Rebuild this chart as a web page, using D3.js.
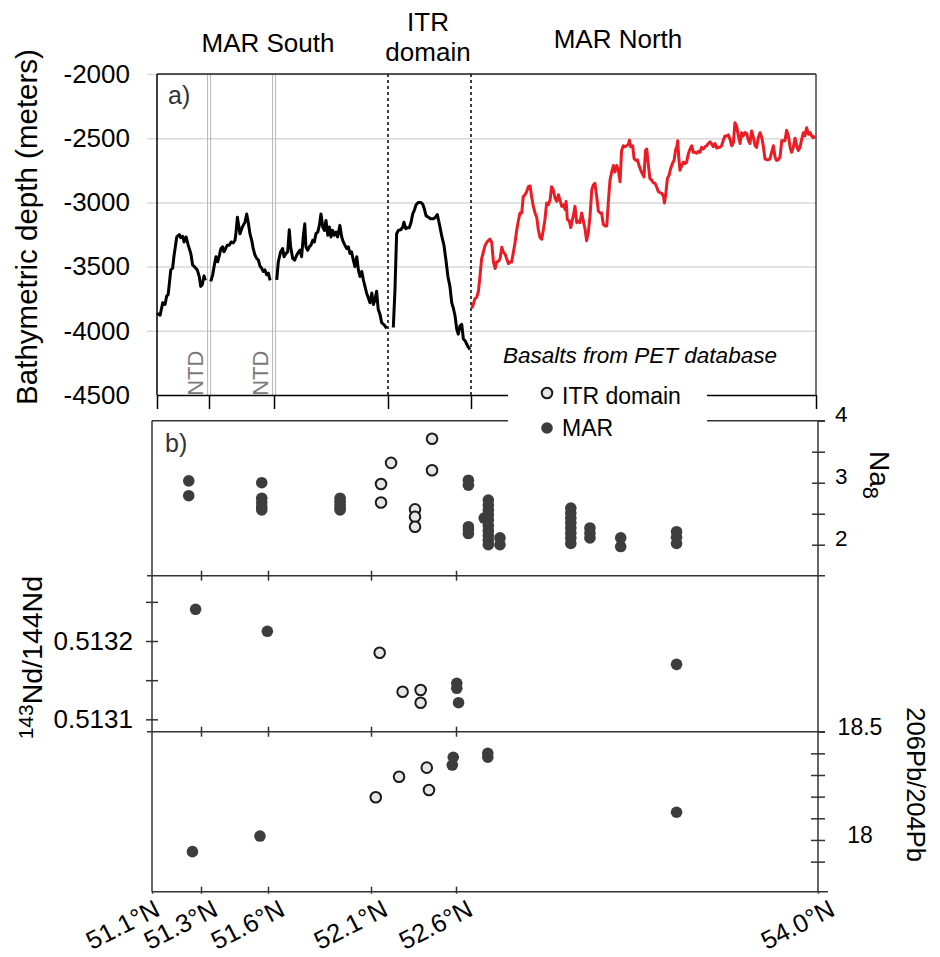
<!DOCTYPE html>
<html>
<head>
<meta charset="utf-8">
<script src="https://cdn.jsdelivr.net/npm/d3@7"></script>
<style>
  body { margin: 0; background: #fff; }
  svg text { font-family: "Liberation Sans", Arial, sans-serif; }
</style>
</head>
<body>
<svg id="chart" width="940" height="957"></svg>
<script>
// latitude ticks (axis is not linear in latitude, so the scales are piecewise)
const latTicks = [51.1, 51.3, 51.6, 52.1, 52.6, 54.0];
const latLabels = ["51.1°N", "51.3°N", "51.6°N", "52.1°N", "52.6°N", "54.0°N"];
const depthTicks = [-4500, -4000, -3500, -3000, -2500, -2000];
const naTicks = [2, 2.5, 3, 3.5, 4];
const naTickLabels = ["2", "", "3", "", "4"];
const ndTicks = [0.5131, 0.51315, 0.5132, 0.51325];
const ndTickLabels = ["0.5131", "", "0.5132", ""];
const pbTicks = [17.9, 18.0, 18.1, 18.2, 18.3, 18.4, 18.5];
const pbTickLabels = ["", "18", "", "", "", "", "18.5"];

// bathymetry along axis [lat, depth m]
const marSouth1 = [[51.100,-3864],[51.112,-3879],[51.122,-3782],[51.131,-3795],[51.137,-3731],[51.143,-3718],[51.153,-3526],[51.160,-3513],[51.165,-3423],[51.176,-3269],[51.186,-3251],[51.191,-3274],[51.199,-3264],[51.204,-3308],[51.212,-3269],[51.220,-3333],[51.230,-3397],[51.237,-3487],[51.246,-3505],[51.255,-3526],[51.263,-3582],[51.268,-3654],[51.274,-3641],[51.281,-3572],[51.286,-3608]];
const marSouth2 = [[51.308,-3615],[51.317,-3564],[51.324,-3495],[51.332,-3423],[51.340,-3462],[51.348,-3410],[51.355,-3359],[51.363,-3346],[51.369,-3385],[51.377,-3359],[51.384,-3333],[51.394,-3333],[51.402,-3308],[51.412,-3315],[51.420,-3295],[51.425,-3231],[51.431,-3115],[51.438,-3192],[51.443,-3244],[51.451,-3205],[51.458,-3179],[51.466,-3154],[51.474,-3090],[51.481,-3154],[51.489,-3244],[51.497,-3295],[51.504,-3359],[51.512,-3410],[51.520,-3436],[51.528,-3449],[51.535,-3495],[51.543,-3513],[51.551,-3538],[51.558,-3526],[51.566,-3564],[51.574,-3551],[51.582,-3608]];
const marSouth3 = [[51.612,-3603],[51.619,-3462],[51.629,-3385],[51.638,-3359],[51.644,-3423],[51.653,-3397],[51.660,-3385],[51.667,-3213],[51.673,-3346],[51.682,-3436],[51.691,-3449],[51.700,-3410],[51.708,-3385],[51.714,-3372],[51.721,-3423],[51.729,-3256],[51.735,-3167],[51.740,-3346],[51.748,-3372],[51.755,-3346],[51.762,-3333],[51.770,-3295],[51.777,-3308],[51.784,-3244],[51.792,-3231],[51.799,-3179],[51.806,-3090],[51.814,-3192],[51.821,-3218],[51.828,-3141],[51.836,-3256],[51.843,-3192],[51.850,-3269],[51.857,-3218],[51.864,-3256],[51.872,-3231],[51.879,-3269],[51.889,-3179],[51.897,-3269],[51.904,-3308],[51.911,-3333],[51.919,-3359],[51.926,-3346],[51.933,-3397],[51.940,-3385],[51.948,-3449],[51.955,-3500],[51.963,-3423],[51.970,-3526],[51.977,-3577],[51.985,-3538],[51.992,-3603],[51.999,-3654],[52.006,-3705],[52.014,-3744],[52.021,-3782],[52.029,-3705],[52.036,-3795],[52.043,-3756],[52.050,-3692],[52.057,-3833],[52.065,-3872],[52.072,-3936],[52.080,-3949],[52.087,-3962],[52.094,-3982]];
const itrProfile = [[52.132,-3974],[52.142,-3679],[52.152,-3244],[52.162,-3218],[52.177,-3213],[52.189,-3192],[52.196,-3154],[52.207,-3205],[52.216,-3197],[52.228,-3197],[52.239,-3154],[52.249,-3090],[52.258,-3064],[52.269,-3018],[52.283,-3000],[52.297,-3000],[52.309,-3013],[52.319,-3051],[52.329,-3103],[52.343,-3115],[52.357,-3128],[52.373,-3128],[52.387,-3115],[52.397,-3095],[52.405,-3141],[52.413,-3192],[52.425,-3269],[52.437,-3333],[52.449,-3449],[52.461,-3577],[52.473,-3654],[52.484,-3782],[52.493,-3820],[52.504,-3885],[52.514,-3987],[52.523,-4026],[52.534,-3962],[52.544,-3949],[52.554,-4064],[52.564,-4077],[52.574,-4103],[52.584,-4128],[52.594,-4146]];
const marNorth = [[52.603,-3827],[52.609,-3796],[52.616,-3750],[52.623,-3740],[52.630,-3694],[52.637,-3566],[52.643,-3439],[52.650,-3388],[52.657,-3337],[52.664,-3311],[52.670,-3298],[52.677,-3286],[52.684,-3311],[52.691,-3464],[52.698,-3515],[52.704,-3464],[52.711,-3459],[52.718,-3439],[52.725,-3349],[52.731,-3388],[52.738,-3401],[52.745,-3439],[52.752,-3477],[52.758,-3464],[52.765,-3464],[52.772,-3388],[52.779,-3311],[52.785,-3222],[52.792,-3145],[52.799,-3082],[52.806,-3082],[52.812,-2954],[52.819,-2941],[52.826,-2916],[52.833,-2878],[52.840,-2872],[52.846,-2954],[52.853,-3031],[52.860,-3082],[52.867,-3120],[52.873,-3209],[52.880,-3273],[52.887,-3286],[52.894,-3209],[52.900,-3133],[52.907,-3005],[52.914,-3018],[52.921,-2980],[52.927,-2878],[52.934,-2903],[52.941,-2967],[52.948,-2992],[52.955,-2941],[52.961,-2980],[52.968,-3031],[52.975,-3018],[52.982,-3056],[52.986,-2992],[52.991,-3133],[52.999,-3145],[53.005,-3196],[53.010,-3145],[53.015,-3107],[53.022,-3031],[53.029,-3158],[53.036,-3145],[53.042,-3158],[53.049,-3082],[53.056,-3145],[53.063,-3209],[53.069,-3298],[53.076,-3235],[53.083,-3107],[53.090,-2903],[53.096,-2865],[53.103,-2852],[53.110,-2954],[53.117,-3069],[53.124,-3082],[53.130,-3082],[53.137,-3171],[53.144,-3184],[53.151,-3184],[53.157,-3005],[53.164,-2827],[53.171,-2763],[53.178,-2712],[53.184,-2763],[53.191,-2712],[53.198,-2750],[53.205,-2839],[53.211,-2597],[53.218,-2559],[53.225,-2566],[53.232,-2559],[53.239,-2546],[53.243,-2515],[53.248,-2566],[53.256,-2559],[53.262,-2661],[53.270,-2673],[53.275,-2668],[53.282,-2712],[53.289,-2750],[53.295,-2776],[53.302,-2801],[53.308,-2597],[53.313,-2584],[53.320,-2712],[53.326,-2814],[53.333,-2827],[53.340,-2847],[53.347,-2852],[53.353,-2878],[53.360,-2916],[53.367,-2923],[53.374,-2929],[53.381,-2954],[53.385,-3005],[53.390,-2941],[53.397,-2814],[53.404,-2788],[53.410,-2737],[53.417,-2699],[53.424,-2673],[53.431,-2584],[53.435,-2571],[53.439,-2520],[53.443,-2648],[53.448,-2750],[53.455,-2712],[53.462,-2686],[53.468,-2699],[53.475,-2686],[53.482,-2622],[53.489,-2584],[53.496,-2559],[53.502,-2610],[53.509,-2610],[53.516,-2617],[53.523,-2602],[53.529,-2610],[53.536,-2571],[53.543,-2584],[53.550,-2566],[53.556,-2559],[53.563,-2541],[53.570,-2528],[53.577,-2546],[53.583,-2566],[53.590,-2541],[53.597,-2577],[53.604,-2571],[53.611,-2571],[53.617,-2559],[53.624,-2515],[53.631,-2482],[53.638,-2482],[53.644,-2474],[53.651,-2508],[53.658,-2559],[53.665,-2533],[53.671,-2380],[53.678,-2406],[53.685,-2482],[53.692,-2541],[53.698,-2457],[53.705,-2482],[53.712,-2457],[53.719,-2464],[53.726,-2520],[53.732,-2541],[53.739,-2444],[53.746,-2495],[53.753,-2559],[53.759,-2571],[53.766,-2495],[53.773,-2457],[53.780,-2495],[53.786,-2559],[53.793,-2661],[53.800,-2668],[53.807,-2668],[53.813,-2661],[53.820,-2610],[53.827,-2559],[53.834,-2648],[53.840,-2673],[53.847,-2668],[53.854,-2648],[53.861,-2520],[53.867,-2520],[53.874,-2520],[53.881,-2439],[53.888,-2482],[53.895,-2571],[53.901,-2610],[53.908,-2571],[53.915,-2500],[53.922,-2559],[53.928,-2597],[53.935,-2571],[53.942,-2508],[53.949,-2457],[53.955,-2482],[53.962,-2418],[53.969,-2469],[53.976,-2457],[53.982,-2482],[53.989,-2495],[53.996,-2482]];

// basalts from PET database [lat, value]
const naItr = [[52.159,2.98],[52.159,2.68],[52.218,3.32],[52.459,3.71],[52.459,3.20],[52.359,2.57],[52.359,2.45],[52.359,2.29]];
const naMar = [[51.250,3.03],[51.250,2.79],[51.572,3.00],[51.572,2.75],[51.572,2.68],[51.572,2.61],[51.572,2.56],[51.950,2.75],[51.950,2.70],[51.950,2.65],[51.950,2.60],[51.950,2.56],[52.648,3.04],[52.648,2.96],[52.648,2.29],[52.648,2.24],[52.648,2.18],[52.709,2.43],[52.725,2.72],[52.725,2.64],[52.725,2.56],[52.725,2.48],[52.725,2.40],[52.725,2.31],[52.725,2.23],[52.725,2.15],[52.725,2.07],[52.725,2.00],[52.770,2.11],[52.770,2.00],[53.044,2.59],[53.044,2.51],[53.044,2.43],[53.044,2.35],[53.044,2.27],[53.044,2.19],[53.044,2.11],[53.044,2.02],[53.118,2.27],[53.118,2.19],[53.118,2.11],[53.237,2.11],[53.237,1.97],[53.453,2.21],[53.453,2.12],[53.453,2.02]];
const ndItr = [[52.151,0.5131851],[52.286,0.5131352],[52.392,0.5131374],[52.392,0.5131212]];
const ndMar = [[51.278,0.5132405],[51.597,0.5132124],[52.603,0.5131460],[52.603,0.5131396],[52.610,0.5131212],[53.453,0.5131702]];
const pbItr = [[52.128,18.197],[52.265,18.292],[52.428,18.334],[52.441,18.231]];
const pbMar = [[51.265,17.946],[51.564,18.018],[52.584,18.382],[52.578,18.346],[52.723,18.400],[52.723,18.382],[53.453,18.128]];

const FONT = '"Liberation Sans", Arial, sans-serif';
const svg = d3.select("#chart");

const topX = d3.scaleLinear().domain(latTicks).range([157, 209, 274, 388, 471, 816]);
const topY = d3.scaleLinear().domain([-4500, -2000]).range([395, 74]);
const lowX = d3.scaleLinear().domain(latTicks).range([152, 201, 268, 371, 456, 818]);
const naY = d3.scaleLinear().domain([1.5, 4]).range([575.7, 420.7]);
const ndY = d3.scaleLinear().domain([0.5130842, 0.5132834]).range([731.7, 575.7]);
const pbY = d3.scaleLinear().domain([17.761, 18.5]).range([891.7, 731.7]);

const x0 = topX(51.1), x1 = topX(54.0), yTop = topY(-2000), yBot = topY(-4500);

function styleAxis(g, col, w) {
  g.attr("font-family", FONT).attr("fill", null);
  g.selectAll("line").attr("stroke", col).attr("stroke-width", w);
  g.select(".domain").attr("stroke", col).attr("stroke-width", w);
  g.selectAll("text").attr("fill", "#000");
}

// ---- panel a) bathymetry ----
// grid
svg.append("g")
  .attr("transform", `translate(${x1},0)`)
  .call(d3.axisLeft(topY).tickValues(depthTicks.slice(1)).tickSize(x1 - x0 + 10).tickFormat(""))
  .call(g => g.select(".domain").remove())
  .call(g => g.selectAll("line").attr("stroke", "#d9d9d9").attr("stroke-width", 1.5));

// y labels
svg.append("g")
  .attr("transform", `translate(${x0},0)`)
  .call(d3.axisLeft(topY).tickValues(depthTicks).tickSize(0).tickPadding(27).tickFormat(d => String(d)))
  .call(g => g.select(".domain").remove())
  .call(g => g.attr("font-family", FONT).attr("font-size", 26))
  .selectAll("text").attr("fill", "#000");

// NTD double lines
[51.3, 51.6].forEach(lat => {
  [-1.4, 1.6].forEach(off => {
    svg.append("line")
      .attr("x1", topX(lat) + off).attr("x2", topX(lat) + off)
      .attr("y1", yTop).attr("y2", yBot)
      .attr("stroke", "#b5b5b5").attr("stroke-width", 1);
  });
  svg.append("text")
    .attr("transform", `translate(${topX(lat) - 6},${topY(-4330)}) rotate(-90)`)
    .attr("text-anchor", "middle")
    .attr("font-size", 22).attr("fill", "#7a7a7a")
    .text("NTD");
});

// ITR domain boundaries
[52.1, 52.6].forEach(lat => {
  svg.append("line")
    .attr("x1", topX(lat)).attr("x2", topX(lat))
    .attr("y1", yTop).attr("y2", yBot)
    .attr("stroke", "#000").attr("stroke-width", 1.5)
    .attr("stroke-dasharray", "3,3");
});

const line = d3.line().x(d => topX(d[0])).y(d => topY(d[1]));
[marSouth1, marSouth2, marSouth3, itrProfile].forEach(seg => {
  svg.append("path").datum(seg).attr("d", line)
    .attr("fill", "none").attr("stroke", "#000").attr("stroke-width", 3)
    .attr("stroke-linejoin", "round");
});
svg.append("path").datum(marNorth).attr("d", line)
  .attr("fill", "none").attr("stroke", "#ec1c24").attr("stroke-width", 3)
  .attr("stroke-linejoin", "round");

// frame
svg.append("g")
  .attr("transform", `translate(0,${yBot})`)
  .call(d3.axisBottom(topX).tickValues(latTicks).tickSize(14).tickSizeOuter(0).tickFormat(""))
  .call(g => styleAxis(g, "#000", 1.5));
svg.append("line").attr("x1", x0).attr("x2", x1).attr("y1", yTop).attr("y2", yTop)
  .attr("stroke", "#222").attr("stroke-width", 1.5);
svg.append("line").attr("x1", x0).attr("x2", x0).attr("y1", yTop).attr("y2", yBot)
  .attr("stroke", "#000").attr("stroke-width", 1.5);
svg.append("line").attr("x1", x1).attr("x2", x1).attr("y1", yTop).attr("y2", yBot)
  .attr("stroke", "#444").attr("stroke-width", 1.5);

svg.append("text").attr("x", x0 + 11).attr("y", 104).attr("font-size", 25).attr("fill", "#333").text("a)");

svg.append("text")
  .attr("transform", `translate(37,227) rotate(-90)`)
  .attr("text-anchor", "middle").attr("font-size", 29.5).attr("fill", "#000")
  .text("Bathymetric depth (meters)");

// domain titles
svg.append("text").attr("x", 268).attr("y", 52).attr("text-anchor", "middle").attr("font-size", 26).text("MAR South");
svg.append("text").attr("x", 428).attr("y", 31).attr("text-anchor", "middle").attr("font-size", 26).text("ITR");
svg.append("text").attr("x", 428).attr("y", 61).attr("text-anchor", "middle").attr("font-size", 26).text("domain");
svg.append("text").attr("x", 618).attr("y", 48).attr("text-anchor", "middle").attr("font-size", 26).text("MAR North");

svg.append("text").attr("x", 640).attr("y", 363).attr("text-anchor", "middle")
  .attr("font-size", 22.5).attr("font-style", "italic").text("Basalts from PET database");

// ---- panel b) geochemistry ----
const lx0 = lowX(51.1), lx1 = lowX(54.0);
const frameCol = "#333";

function hline(y, xa, xb) {
  svg.append("line").attr("x1", xa).attr("x2", xb).attr("y1", y).attr("y2", y)
    .attr("stroke", frameCol).attr("stroke-width", 1.5);
}
hline(naY(4), lx0, lx1 + 7);
hline(naY(1.5), lx0 - 5, lx1 + 7);
hline(ndY.range()[0], lx0 - 5, lx1 + 7);
hline(pbY(17.761), lx0, lx1 + 10);
svg.append("line").attr("x1", lx0).attr("x2", lx0).attr("y1", naY(4)).attr("y2", pbY(17.761))
  .attr("stroke", frameCol).attr("stroke-width", 1.5);
svg.append("line").attr("x1", lx1).attr("x2", lx1).attr("y1", naY(4)).attr("y2", pbY(17.761))
  .attr("stroke", frameCol).attr("stroke-width", 1.5);

// latitude ticks on separators
[naY(1.5), ndY.range()[0]].forEach(y => {
  svg.append("g").attr("transform", `translate(0,${y})`)
    .call(d3.axisBottom(lowX).tickValues(latTicks.slice(1, 5)).tickSize(5).tickFormat(""))
    .call(g => g.select(".domain").remove())
    .call(g => styleAxis(g, frameCol, 1.5));
  svg.append("g").attr("transform", `translate(0,${y})`)
    .call(d3.axisTop(lowX).tickValues(latTicks.slice(1, 5)).tickSize(5).tickFormat(""))
    .call(g => g.select(".domain").remove())
    .call(g => styleAxis(g, frameCol, 1.5));
});

// bottom latitude axis
const yB = pbY(17.761);
svg.append("g").attr("transform", `translate(0,${yB})`)
  .call(d3.axisTop(lowX).tickValues(latTicks.slice(1, 5)).tickSize(5).tickFormat(""))
  .call(g => g.select(".domain").remove())
  .call(g => styleAxis(g, frameCol, 1.5));
svg.append("g").attr("transform", `translate(0,${yB})`)
  .call(d3.axisBottom(lowX).tickValues(latTicks).tickSize(2).tickFormat((d, i) => latLabels[i]))
  .call(g => g.select(".domain").remove())
  .call(g => styleAxis(g, frameCol, 1.5))
  .call(g => g.attr("font-size", 25.5))
  .selectAll("text")
  .attr("x", 0).attr("y", 0).attr("dy", 0)
  .attr("text-anchor", "end")
  .attr("transform", (d, i) => `translate(${i === 0 ? 9 : 18},23) rotate(-27)`);

// Na8 axis (right)
svg.append("g").attr("transform", `translate(${lx1},0)`)
  .call(d3.axisRight(naY).tickValues(naTicks).tickSize(7).tickPadding(10)
    .tickFormat((d, i) => naTickLabels[i]))
  .call(g => g.select(".domain").remove())
  .call(g => styleAxis(g, frameCol, 1.5))
  .call(g => g.attr("font-size", 22.5))
  .selectAll("text").attr("y", -6);
svg.append("g").attr("transform", `translate(${lx1},0)`)
  .call(d3.axisLeft(naY).tickValues(naTicks.slice(0, 4)).tickSize(6).tickFormat(""))
  .call(g => g.select(".domain").remove())
  .call(g => styleAxis(g, frameCol, 1.5));

// Nd axis (left)
svg.append("g").attr("transform", `translate(${lx0},0)`)
  .call(d3.axisLeft(ndY).tickValues(ndTicks).tickSize(6).tickPadding(13)
    .tickFormat((d, i) => ndTickLabels[i]))
  .call(g => g.select(".domain").remove())
  .call(g => styleAxis(g, frameCol, 1.5))
  .call(g => g.attr("font-size", 26));
svg.append("g").attr("transform", `translate(${lx0},0)`)
  .call(d3.axisRight(ndY).tickValues(ndTicks).tickSize(6).tickFormat(""))
  .call(g => g.select(".domain").remove())
  .call(g => styleAxis(g, frameCol, 1.5));

// Pb axis (right)
svg.append("g").attr("transform", `translate(${lx1},0)`)
  .call(d3.axisRight(pbY).tickValues(pbTicks).tickSize(7).tickPadding(35)
    .tickFormat((d, i) => pbTickLabels[i]))
  .call(g => g.select(".domain").remove())
  .call(g => styleAxis(g, frameCol, 1.5))
  .call(g => g.attr("font-size", 23))
  .selectAll("text").attr("text-anchor", "middle").attr("y", -5);
svg.append("g").attr("transform", `translate(${lx1},0)`)
  .call(d3.axisLeft(pbY).tickValues(pbTicks.slice(0, 6)).tickSize(7).tickFormat(""))
  .call(g => g.select(".domain").remove())
  .call(g => styleAxis(g, frameCol, 1.5));

// axis titles
const ndTitle = svg.append("text")
  .attr("transform", `translate(42,${ndY(0.51318) + 1}) rotate(-90)`)
  .attr("text-anchor", "middle").attr("fill", "#000");
ndTitle.append("tspan").attr("font-size", 21).attr("dy", -9).text("143");
ndTitle.append("tspan").attr("font-size", 28.5).attr("dy", 9).text("Nd/144Nd");

const naTitle = svg.append("text")
  .attr("transform", `translate(870,451) rotate(90)`)
  .attr("fill", "#000");
naTitle.append("tspan").attr("font-size", 28).text("Na");
naTitle.append("tspan").attr("font-size", 22).attr("dy", 7).text("8");

svg.append("text")
  .attr("transform", `translate(907,${pbY(18.2) - 12}) rotate(90)`)
  .attr("text-anchor", "middle").attr("font-size", 25.5).attr("fill", "#000")
  .text("206Pb/204Pb");

svg.append("text").attr("x", lx0 + 13).attr("y", 452).attr("font-size", 25).attr("fill", "#333").text("b)");

// points
const darkCol = "#3d3d3d";
function dots(data, yScale, open) {
  svg.append("g").selectAll("circle").data(data).join("circle")
    .attr("cx", d => lowX(d[0])).attr("cy", d => yScale(d[1]))
    .attr("r", open ? 5.3 : 5.8)
    .attr("fill", open ? "#e6e6e6" : darkCol)
    .attr("stroke", open ? "#1a1a1a" : "none")
    .attr("stroke-width", open ? 2 : 0);
}
dots(naMar, naY, false);
dots(naItr, naY, true);
dots(ndMar, ndY, false);
dots(ndItr, ndY, true);
dots(pbMar, pbY, false);
dots(pbItr, pbY, true);

// legend (white box interrupting the frame lines)
svg.append("rect").attr("x", 508).attr("y", 380).attr("width", 199).attr("height", 62).attr("fill", "#fff");
svg.append("circle").attr("cx", 547).attr("cy", 393).attr("r", 5.3)
  .attr("fill", "#e6e6e6").attr("stroke", "#1a1a1a").attr("stroke-width", 2);
svg.append("text").attr("x", 562).attr("y", 404).attr("font-size", 23).text("ITR domain");
svg.append("circle").attr("cx", 547).attr("cy", 428).attr("r", 5.8).attr("fill", darkCol);
svg.append("text").attr("x", 562).attr("y", 436).attr("font-size", 23).text("MAR");
</script>
</body>
</html>
